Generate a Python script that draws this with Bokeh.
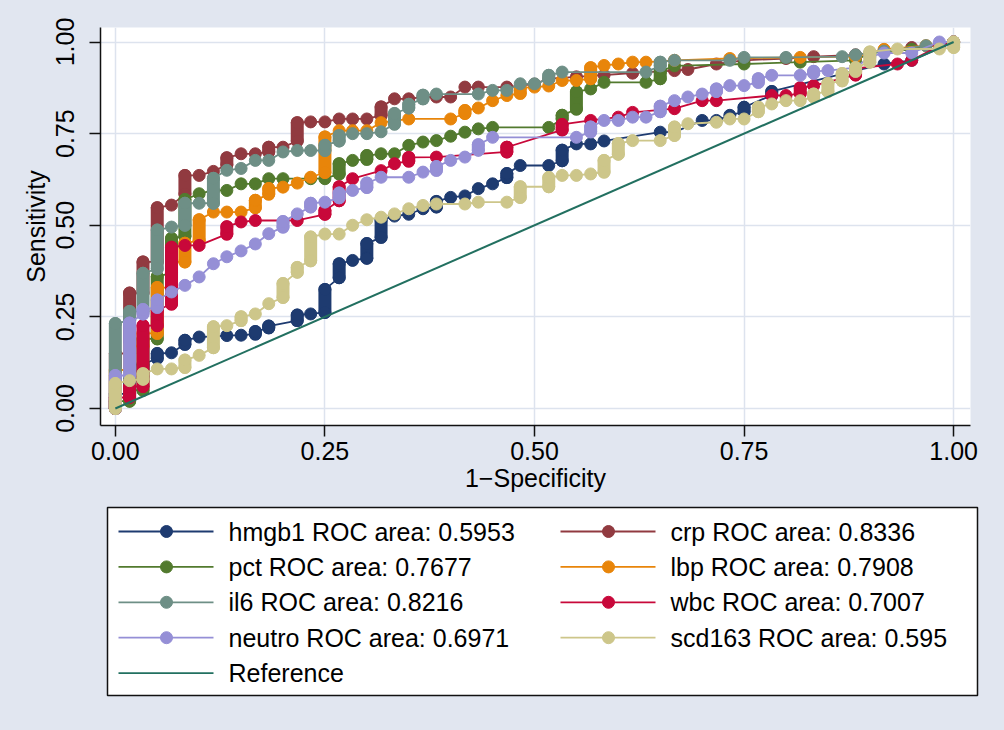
from bokeh.plotting import figure
from bokeh.models import Range1d, FixedTicker, PrintfTickFormatter
from bokeh.layouts import column
from bokeh.embed import file_html
from bokeh.resources import INLINE
from bokeh.core.properties import value

# ---------------- data ----------------
names = ["hmgb1", "crp", "pct", "lbp", "il6", "wbc", "neutro", "scd163"]
areas = ["0.5953", "0.8336", "0.7677", "0.7908", "0.8216", "0.7007", "0.6971", "0.595"]
tick_vals = [0.0, 0.25, 0.5, 0.75, 1.0]

hmgb1_fpr = [0, 0, 0.017, 0.017, 0.033, 0.033, 0.05, 0.05, 0.067, 0.083, 0.083, 0.1, 0.133, 0.15, 0.167, 0.167,
             0.183, 0.183, 0.217, 0.217, 0.233, 0.25, 0.25, 0.267, 0.267, 0.283, 0.3, 0.3, 0.317, 0.317, 0.333,
             0.35, 0.367, 0.383, 0.383, 0.4, 0.417, 0.433, 0.45, 0.467, 0.467, 0.483, 0.517, 0.533, 0.533, 0.55,
             0.567, 0.583, 0.65, 0.667, 0.7, 0.717, 0.733, 0.75, 0.75, 0.783, 0.783, 0.883, 0.917, 0.95, 1.0]
hmgb1_tpr = [0, 0.04, 0.04, 0.08, 0.08, 0.12, 0.137, 0.15, 0.152, 0.175, 0.186, 0.195, 0.199, 0.2, 0.203, 0.21,
             0.22, 0.225, 0.24, 0.255, 0.258, 0.262, 0.325, 0.357, 0.395, 0.404, 0.41, 0.45, 0.467, 0.514, 0.525,
             0.53, 0.545, 0.55, 0.565, 0.576, 0.58, 0.6, 0.613, 0.63, 0.641, 0.663, 0.663, 0.676, 0.705, 0.722,
             0.722, 0.73, 0.754, 0.754, 0.786, 0.786, 0.8, 0.81, 0.822, 0.855, 0.865, 0.922, 0.94, 0.95, 1.0]

crp_fpr = [0, 0, 0.017, 0.017, 0.033, 0.033, 0.05, 0.05, 0.067, 0.083, 0.083, 0.1, 0.117, 0.133, 0.133, 0.15,
           0.167, 0.183, 0.183, 0.2, 0.217, 0.217, 0.233, 0.25, 0.267, 0.283, 0.3, 0.317, 0.317, 0.333, 0.35,
           0.367, 0.383, 0.4, 0.417, 0.433, 0.467, 0.5, 0.517, 0.55, 0.583, 0.617, 0.65, 0.667, 0.683, 0.717,
           0.75, 0.8, 0.833, 0.883, 0.917, 0.95, 0.983, 1.0]
crp_tpr = [0, 0.15, 0.15, 0.315, 0.315, 0.40, 0.40, 0.548, 0.555, 0.585, 0.636, 0.636, 0.647, 0.665, 0.684,
           0.695, 0.695, 0.70, 0.713, 0.713, 0.73, 0.78, 0.782, 0.782, 0.79, 0.79, 0.79, 0.80, 0.823, 0.845,
           0.845, 0.85, 0.85, 0.85, 0.877, 0.877, 0.877, 0.885, 0.9, 0.905, 0.91, 0.915, 0.92, 0.922, 0.925,
           0.94, 0.95, 0.955, 0.96, 0.965, 0.975, 0.985, 0.99, 1.0]

pct_fpr = [0, 0, 0.017, 0.017, 0.033, 0.033, 0.05, 0.05, 0.067, 0.067, 0.083, 0.083, 0.1, 0.117, 0.133, 0.15,
           0.167, 0.183, 0.2, 0.233, 0.25, 0.267, 0.267, 0.283, 0.3, 0.3, 0.317, 0.333, 0.35, 0.367, 0.383, 0.4,
           0.417, 0.433, 0.45, 0.517, 0.533, 0.533, 0.55, 0.55, 0.567, 0.583, 0.633, 0.65, 0.65, 0.667, 0.75,
           0.817, 0.883, 0.9, 0.95, 0.983, 1.0]
pct_tpr = [0, 0.02, 0.02, 0.05, 0.05, 0.19, 0.19, 0.36, 0.37, 0.464, 0.47, 0.57, 0.586, 0.595, 0.595, 0.613,
           0.613, 0.627, 0.627, 0.627, 0.627, 0.64, 0.668, 0.677, 0.68, 0.69, 0.695, 0.695, 0.718, 0.727, 0.731,
           0.743, 0.754, 0.763, 0.767, 0.767, 0.79, 0.80, 0.817, 0.864, 0.872, 0.89, 0.89, 0.9, 0.92, 0.935,
           0.94, 0.945, 0.95, 0.97, 0.98, 0.995, 1.0]

lbp_fpr = [0, 0, 0.017, 0.017, 0.033, 0.033, 0.05, 0.05, 0.067, 0.067, 0.083, 0.083, 0.1, 0.1, 0.117, 0.133,
           0.15, 0.167, 0.167, 0.183, 0.183, 0.2, 0.217, 0.233, 0.25, 0.25, 0.267, 0.283, 0.3, 0.317, 0.333,
           0.35, 0.4, 0.417, 0.417, 0.433, 0.45, 0.467, 0.483, 0.483, 0.5, 0.517, 0.533, 0.55, 0.567, 0.567,
           0.583, 0.6, 0.617, 0.633, 0.667, 0.733, 0.817, 0.883, 0.917, 0.967, 1.0]
lbp_tpr = [0, 0.105, 0.105, 0.17, 0.17, 0.205, 0.205, 0.33, 0.33, 0.40, 0.40, 0.451, 0.458, 0.515, 0.536,
           0.536, 0.536, 0.548, 0.568, 0.585, 0.60, 0.604, 0.615, 0.631, 0.644, 0.741, 0.758, 0.758, 0.758,
           0.78, 0.785, 0.79, 0.79, 0.805, 0.813, 0.82, 0.84, 0.854, 0.86, 0.875, 0.877, 0.88, 0.895, 0.895,
           0.90, 0.93, 0.936, 0.94, 0.945, 0.945, 0.95, 0.955, 0.958, 0.96, 0.98, 0.99, 1.0]

il6_fpr = [0, 0, 0.017, 0.017, 0.033, 0.033, 0.05, 0.05, 0.067, 0.083, 0.083, 0.1, 0.117, 0.117, 0.133, 0.15,
           0.167, 0.183, 0.2, 0.217, 0.233, 0.25, 0.25, 0.267, 0.267, 0.283, 0.3, 0.317, 0.333, 0.333, 0.35,
           0.35, 0.367, 0.367, 0.383, 0.433, 0.45, 0.467, 0.483, 0.5, 0.517, 0.517, 0.533, 0.633, 0.65, 0.65,
           0.667, 0.733, 0.75, 0.8, 0.867, 0.883, 0.917, 0.967, 1.0]
il6_tpr = [0, 0.232, 0.24, 0.265, 0.265, 0.369, 0.381, 0.487, 0.495, 0.50, 0.56, 0.56, 0.56, 0.628, 0.65,
           0.655, 0.677, 0.677, 0.70, 0.704, 0.704, 0.704, 0.718, 0.73, 0.745, 0.75, 0.75, 0.755, 0.776, 0.805,
           0.82, 0.83, 0.845, 0.855, 0.858, 0.858, 0.868, 0.868, 0.886, 0.886, 0.899, 0.909, 0.918, 0.918,
           0.935, 0.945, 0.95, 0.95, 0.958, 0.958, 0.96, 0.965, 0.975, 0.99, 1.0]

wbc_fpr = [0, 0, 0.017, 0.017, 0.033, 0.033, 0.05, 0.05, 0.067, 0.067, 0.083, 0.1, 0.133, 0.133, 0.15, 0.167,
           0.217, 0.25, 0.25, 0.267, 0.267, 0.283, 0.317, 0.333, 0.35, 0.35, 0.383, 0.467, 0.467, 0.533, 0.533,
           0.567, 0.6, 0.617, 0.667, 0.7, 0.717, 0.783, 0.8, 0.817, 0.817, 0.833, 0.883, 0.883, 0.933, 0.95,
           0.983, 1.0]
wbc_tpr = [0, 0.03, 0.03, 0.06, 0.06, 0.226, 0.226, 0.268, 0.285, 0.44, 0.445, 0.445, 0.476, 0.496, 0.509,
           0.513, 0.513, 0.53, 0.54, 0.567, 0.605, 0.627, 0.649, 0.668, 0.675, 0.685, 0.686, 0.70, 0.713, 0.76,
           0.775, 0.786, 0.795, 0.808, 0.818, 0.84, 0.84, 0.854, 0.854, 0.86, 0.875, 0.881, 0.91, 0.928, 0.94,
           0.95, 0.99, 1.0]

neutro_fpr = [0, 0, 0.017, 0.017, 0.033, 0.033, 0.05, 0.05, 0.067, 0.083, 0.1, 0.117, 0.133, 0.15, 0.167,
              0.183, 0.2, 0.2, 0.217, 0.233, 0.233, 0.25, 0.267, 0.267, 0.283, 0.3, 0.3, 0.317, 0.35, 0.367,
              0.383, 0.383, 0.4, 0.417, 0.433, 0.433, 0.45, 0.55, 0.567, 0.567, 0.583, 0.6, 0.617, 0.633, 0.65,
              0.65, 0.667, 0.683, 0.7, 0.717, 0.717, 0.733, 0.75, 0.767, 0.767, 0.783, 0.817, 0.833, 0.833,
              0.85, 0.883, 0.9, 0.917, 0.95, 0.983, 1.0]
neutro_tpr = [0, 0.09, 0.09, 0.233, 0.258, 0.27, 0.276, 0.296, 0.318, 0.336, 0.359, 0.395, 0.414, 0.43,
              0.449, 0.477, 0.495, 0.51, 0.531, 0.55, 0.56, 0.563, 0.575, 0.588, 0.595, 0.603, 0.615, 0.631,
              0.631, 0.645, 0.65, 0.66, 0.677, 0.686, 0.705, 0.72, 0.74, 0.74, 0.755, 0.768, 0.786, 0.786,
              0.795, 0.795, 0.81, 0.825, 0.84, 0.85, 0.858, 0.865, 0.872, 0.881, 0.881, 0.89, 0.90, 0.909,
              0.909, 0.915, 0.92, 0.922, 0.93, 0.96, 0.97, 0.97, 1.0, 1.0]

scd163_fpr = [0, 0, 0.017, 0.033, 0.033, 0.05, 0.067, 0.083, 0.083, 0.1, 0.117, 0.117, 0.133, 0.15, 0.15,
              0.167, 0.183, 0.2, 0.2, 0.217, 0.217, 0.233, 0.233, 0.25, 0.267, 0.283, 0.3, 0.317, 0.333, 0.35,
              0.367, 0.383, 0.417, 0.433, 0.467, 0.483, 0.483, 0.517, 0.517, 0.533, 0.55, 0.567, 0.583, 0.583,
              0.6, 0.6, 0.617, 0.65, 0.667, 0.667, 0.683, 0.717, 0.733, 0.75, 0.767, 0.767, 0.783, 0.8, 0.817,
              0.833, 0.833, 0.85, 0.85, 0.867, 0.867, 0.883, 0.883, 0.9, 0.9, 0.933, 0.983, 1.0, 1.0]
scd163_tpr = [0, 0.068, 0.076, 0.08, 0.095, 0.108, 0.108, 0.112, 0.132, 0.145, 0.166, 0.223, 0.226, 0.24,
              0.25, 0.258, 0.286, 0.303, 0.341, 0.372, 0.385, 0.403, 0.468, 0.476, 0.476, 0.5, 0.515, 0.522,
              0.531, 0.545, 0.554, 0.558, 0.558, 0.563, 0.563, 0.576, 0.605, 0.605, 0.63, 0.636, 0.636, 0.64,
              0.645, 0.677, 0.694, 0.723, 0.731, 0.731, 0.745, 0.768, 0.777, 0.781, 0.79, 0.79, 0.81, 0.822,
              0.831, 0.84, 0.84, 0.85, 0.858, 0.865, 0.887, 0.894, 0.914, 0.92, 0.93, 0.945, 0.973, 0.981,
              0.981, 0.985, 1.0]

ref_fpr = [0.0, 1.0]
ref_tpr = [0.0, 1.0]

series = [
    (hmgb1_fpr, hmgb1_tpr), (crp_fpr, crp_tpr), (pct_fpr, pct_tpr), (lbp_fpr, lbp_tpr),
    (il6_fpr, il6_tpr), (wbc_fpr, wbc_tpr), (neutro_fpr, neutro_tpr), (scd163_fpr, scd163_tpr),
]

# ---------------- style ----------------
colors = ["#1e3b70", "#913a40", "#527a2e", "#e8850a", "#6e8f86", "#c8083a", "#958fd6", "#cdc68a"]
REF_COLOR = "#227060"
BG = "#E1E6F0"
GRID = "#DDE3EE"
FONT = "Liberation Sans"
FS = "25px"
MS = 12        # marker diameter
LW = 1.8       # connecting line width
SHIFT = 7      # the y-axis panel reserves more room than it draws; pull the figure left

p = figure(width=1004 + SHIFT, height=500,
           x_range=Range1d(-0.0177, 1.0201), y_range=Range1d(-0.0464, 1.0396),
           output_backend="svg", toolbar_location=None,
           min_border_left=94, min_border_right=15, min_border_top=27, min_border_bottom=75,
           background_fill_color="white", border_fill_color=BG, outline_line_color=None,
           margin=(0, 0, 0, -SHIFT))

for i, (fx, ty) in enumerate(series):
    c = colors[i]
    p.line(fx, ty, line_color=c, line_width=LW)
    x0, y0, x1, y1 = [], [], [], []
    for j in range(len(fx) - 1):
        if fx[j] == fx[j + 1] and ty[j] != ty[j + 1]:
            x0.append(fx[j]); y0.append(ty[j]); x1.append(fx[j + 1]); y1.append(ty[j + 1])
    if x0:
        p.segment(x0, y0, x1, y1, line_color=c, line_width=MS + 1, line_cap="round")
    p.scatter(fx, ty, marker="circle", size=MS, fill_color=c, line_color=c, line_width=1)

p.line(ref_fpr, ref_tpr, line_color=REF_COLOR, line_width=2)

for ax in (p.xaxis, p.yaxis):
    ax.ticker = FixedTicker(ticks=tick_vals)
    ax.formatter = PrintfTickFormatter(format="%.2f")
    ax.axis_line_color = "#111111"
    ax.axis_line_width = 1.5
    ax.major_tick_line_color = "#111111"
    ax.major_tick_line_width = 1.5
    ax.major_tick_out = 11
    ax.major_tick_in = 0
    ax.minor_tick_line_color = None
    ax.major_label_text_font = FONT
    ax.major_label_text_font_size = FS
    ax.major_label_text_color = "black"
    ax.axis_label_text_font = FONT
    ax.axis_label_text_font_size = FS
    ax.axis_label_text_font_style = "normal"
    ax.axis_label_text_color = "black"

p.xaxis.axis_label = "1\u2212Specificity"
p.yaxis.axis_label = "Sensitivity"
p.xaxis.major_label_standoff = 5
p.xaxis.axis_label_standoff = 1
p.yaxis.major_label_orientation = "vertical"
p.yaxis.major_label_standoff = 15
p.yaxis.axis_label_standoff = 4

p.xgrid.grid_line_color = GRID
p.ygrid.grid_line_color = GRID
p.xgrid.grid_line_width = 1.5
p.ygrid.grid_line_width = 1.5

# ---------------- legend panel ----------------
leg = figure(width=1004, height=230, x_range=Range1d(0, 870), y_range=Range1d(188, 0),
             x_axis_type=None, y_axis_type=None, output_backend="svg", toolbar_location=None,
             min_border_left=107, min_border_right=27, min_border_top=7, min_border_bottom=35,
             background_fill_color="white", border_fill_color=BG,
             outline_line_color="#111111", outline_line_width=1.5)

labels = [f"{n} ROC area: {a}" for n, a in zip(names, areas)] + ["Reference"]
lcolors = colors + [REF_COLOR]
col_x = [11, 453]
for i, (lab, c) in enumerate(zip(labels, lcolors)):
    row, col = divmod(i, 2)
    yc = 24 + 35.4 * row
    xs = col_x[col]
    leg.line([xs, xs + 95], [yc, yc], line_color=c, line_width=LW)
    if i < len(names):
        leg.scatter([xs + 48], [yc], marker="circle", size=MS, fill_color=c, line_color=c)
    leg.text([xs + 110], [yc], text=[lab], text_font=value(FONT), text_font_size=FS,
             text_baseline="middle", text_align="left", text_color="black")

layout = column(p, leg)
tmpl = "{% block preamble %}<style>html, body { background: " + BG + "; overflow: hidden; }</style>{% endblock %}"
open("out.html", "w").write(file_html(layout, INLINE, template=tmpl))
